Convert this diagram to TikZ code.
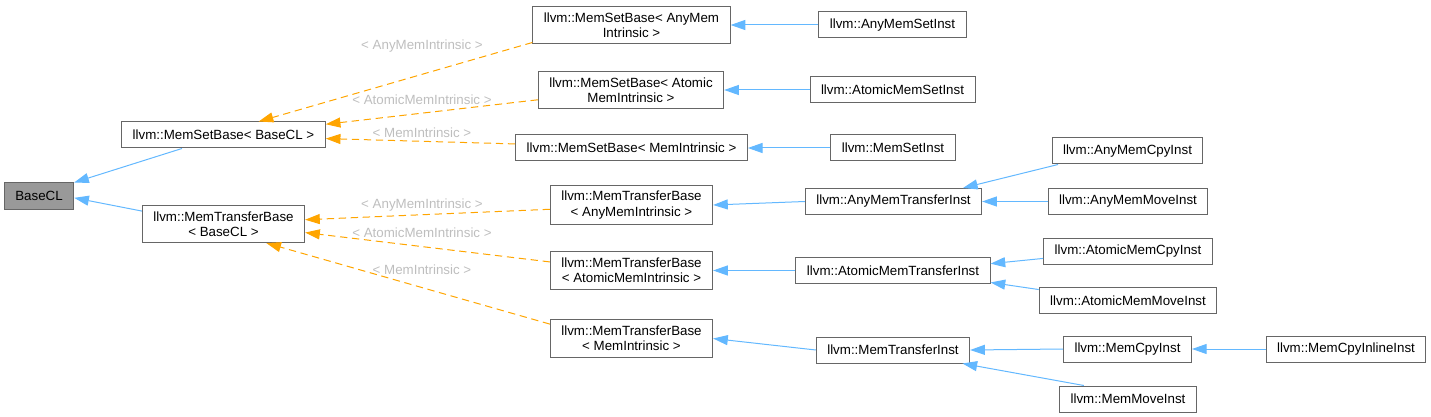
\documentclass[tikz,border=0pt]{standalone}
\usepackage{fontspec}
\setmainfont{Liberation Sans}
\usetikzlibrary{arrows.meta}
\definecolor{boxgray}{HTML}{666666}
\definecolor{basefill}{HTML}{999999}
\definecolor{edgeblue}{HTML}{63B8FF}
\definecolor{tmplorange}{HTML}{FFA500}
\definecolor{labelgray}{HTML}{BEBEBE}

\begin{document}
\begin{tikzpicture}[x=0.75pt, y=-0.75pt,
  every node/.style={font=\fontsize{10}{11.5}\selectfont},
  cls/.style={draw=boxgray, fill=white, line width=0.75pt, inner xsep=8.25pt,
    inner ysep=4.5pt, minimum height=19.5pt, align=center},
  basecls/.style={cls, fill=basefill},
  pub/.style={draw=edgeblue, line width=0.75pt, -{Triangle[length=11pt,width=7.5pt]}},
  tmpl/.style={draw=tmplorange, line width=0.75pt, dash pattern=on 5.5pt off 3.5pt,
    -{Triangle[length=11pt,width=7.5pt]}},
  targ/.style={text=labelgray, inner sep=1pt}]
  \useasboundingbox (0,0) rectangle (1431,417);

  % --- Nodes (positions chosen to match the drawing) ---
  \node[basecls] (basecl) at (39,196) {BaseCL};

  \node[cls] (msbbase) at (223.5,135) {llvm::MemSetBase< BaseCL >};
  \node[cls] (mtbbase) at (223.5,224) {llvm::MemTransferBase\\< BaseCL >};

  \node[cls] (msbany)    at (631.5,25)  {llvm::MemSetBase< AnyMem\\Intrinsic >};
  \node[cls] (msbatomic) at (631,90)    {llvm::MemSetBase< Atomic\\MemIntrinsic >};
  \node[cls] (msbmem)    at (631.5,148) {llvm::MemSetBase< MemIntrinsic >};
  \node[cls] (mtbany)    at (631.5,205) {llvm::MemTransferBase\\< AnyMemIntrinsic >};
  \node[cls] (mtbatomic) at (631.5,270.5) {llvm::MemTransferBase\\< AtomicMemIntrinsic >};
  \node[cls] (mtbmem)    at (631.5,338.5) {llvm::MemTransferBase\\< MemIntrinsic >};

  \node[cls] (anymemset)    at (892.5,25)  {llvm::AnyMemSetInst};
  \node[cls] (atomicmemset) at (892.5,90)  {llvm::AtomicMemSetInst};
  \node[cls] (memset)       at (893,148)   {llvm::MemSetInst};
  \node[cls] (anytransfer)  at (893.5,201.5) {llvm::AnyMemTransferInst};
  \node[cls] (atomictransfer) at (893,270.5) {llvm::AtomicMemTransferInst};
  \node[cls] (memtransfer)  at (893,350)   {llvm::MemTransferInst};

  \node[cls] (anymemcpy)     at (1127.5,151)  {llvm::AnyMemCpyInst};
  \node[cls] (anymemmove)    at (1128,201.5)  {llvm::AnyMemMoveInst};
  \node[cls] (atomicmemcpy)  at (1128,251)    {llvm::AtomicMemCpyInst};
  \node[cls] (atomicmemmove) at (1128,300.5)  {llvm::AtomicMemMoveInst};
  \node[cls] (memcpy)        at (1127.5,349)  {llvm::MemCpyInst};
  \node[cls] (memmove)       at (1128,399)    {llvm::MemMoveInst};
  \node[cls] (memcpyinline)  at (1346,349)    {llvm::MemCpyInlineInst};

  % --- Template argument labels ---
  \node[targ] (lmsbany)    at (422,46)  {< AnyMemIntrinsic >};
  \node[targ] (lmsbatomic) at (422,100) {< AtomicMemIntrinsic >};
  \node[targ] (lmsbmem)    at (422,133) {< MemIntrinsic >};
  \node[targ] (lmtbany)    at (422,205) {< AnyMemIntrinsic >};
  \node[targ] (lmtbatomic) at (422,233) {< AtomicMemIntrinsic >};
  \node[targ] (lmtbmem)    at (422,270) {< MemIntrinsic >};

  % --- Edges (matching the picture) ---
  \draw[pub] (msbbase.198) -- (basecl.21);
  \draw[pub] (mtbbase.171) -- (basecl.357);

  \draw[tmpl] (msbany.190)    -- (msbbase.21);
  \draw[tmpl] (msbatomic.186) -- (msbbase.6);
  \draw[tmpl] (msbmem.178)    -- (msbbase.358);
  \draw[tmpl] (mtbany.183)    -- (mtbbase.3);
  \draw[tmpl] (mtbatomic.174) -- (mtbbase.354);
  \draw[tmpl] (mtbmem.170)    -- (mtbbase.336);

  \draw[pub] (anymemset.west)    -- (msbany.east);
  \draw[pub] (atomicmemset.west) -- (msbatomic.east);
  \draw[pub] (memset.west)       -- (msbmem.east);
  \draw[pub] (anytransfer.west)  -- (mtbany.east);
  \draw[pub] (atomictransfer.west) -- (mtbatomic.east);
  \draw[pub] (memtransfer.west)  -- (mtbmem.east);

  \draw[pub] (anymemcpy.191)     -- (anytransfer.11);
  \draw[pub] (anymemmove.west)   -- (anytransfer.east);
  \draw[pub] (atomicmemcpy.185)  -- (atomictransfer.4);
  \draw[pub] (atomicmemmove.173) -- (atomictransfer.353);
  \draw[pub] (memcpy.west)       -- (memtransfer.east);
  \draw[pub] (memmove.163)       -- (memtransfer.349);
  \draw[pub] (memcpyinline.west) -- (memcpy.east);
\end{tikzpicture}
\end{document}
